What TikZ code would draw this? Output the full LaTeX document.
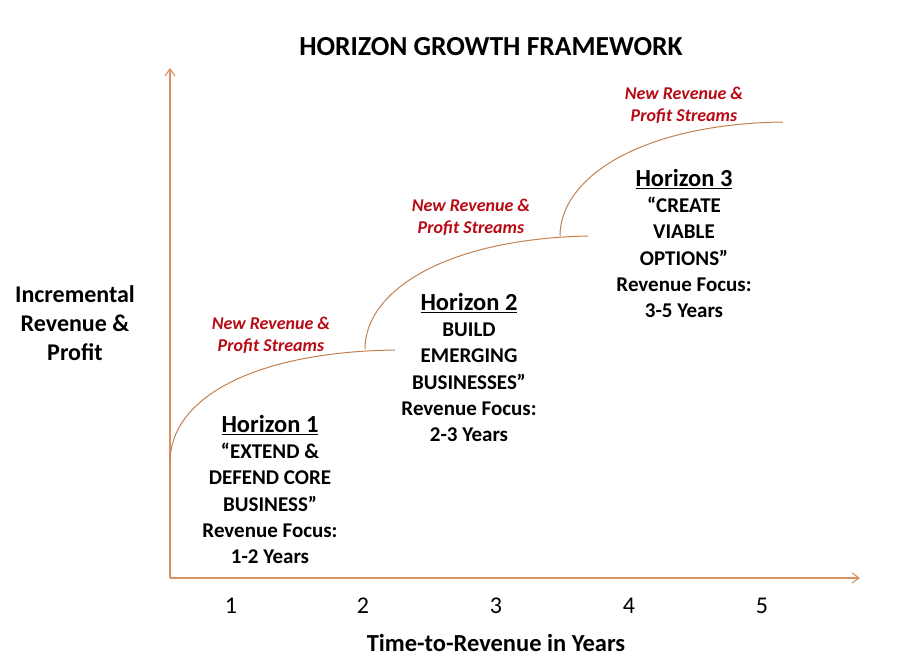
\documentclass[tikz,border=0pt]{standalone}
\usepackage{fontspec}
\setmainfont{Carlito}
\usetikzlibrary{arrows.meta}
\definecolor{axisorange}{RGB}{214,146,98}
\definecolor{curvebrown}{RGB}{196,128,78}
\definecolor{streamred}{RGB}{184,10,20}
\tikzset{
  axisline/.style={axisorange,line width=1.1pt,-{Straight Barb[length=7pt,width=10pt]}},
  growth/.style={curvebrown,line width=1pt},
  horizon/.style={align=center,font=\bfseries\fontsize{21}{26.3}\selectfont,inner sep=0pt},
  stream/.style={align=center,text=streamred,font=\bfseries\itshape\fontsize{18}{22}\selectfont,inner sep=0pt},
  ticklabel/.style={font=\fontsize{24}{26}\selectfont,inner sep=0pt},
}
\begin{document}
\begin{tikzpicture}[x=1pt,y=-1pt]
  \useasboundingbox (0,0) rectangle (898,671);
  % axes
  \coordinate (origin) at (170,578);
  \coordinate (ytop) at (170,68);
  \coordinate (xend) at (860,578);
  \draw[axisline] (origin) -- (ytop);
  \draw[axisline] (origin) -- (xend);
  % growth curves
  \coordinate (c1s) at (170,462);
  \coordinate (c1e) at (395,350);
  \coordinate (c2s) at (365,349);
  \coordinate (c2e) at (588,236);
  \coordinate (c3s) at (560,236);
  \coordinate (c3e) at (783,122);
  \draw[growth] (c1s) .. controls (170,400) and (250,352) .. (c1e);
  \draw[growth] (c2s) .. controls (365,291) and (445,239) .. (c2e);
  \draw[growth] (c3s) .. controls (560,178) and (640,124) .. (c3e);
  % texts
  \node[font=\bfseries\fontsize{27.5}{30}\selectfont,inner sep=0pt] (title) at (491,47) {HORIZON GROWTH FRAMEWORK};
  \node[horizon,font=\bfseries\fontsize{24}{29}\selectfont] (ylabel) at (75,323) {Incremental\\Revenue \&\\Profit};
  \node[horizon,anchor=north] (h1) at (270,415) {{\fontsize{24.5}{26.3}\selectfont\underline{Horizon 1}}\\``EXTEND \&\\DEFEND CORE\\BUSINESS''\\Revenue Focus:\\1-2 Years};
  \node[horizon,anchor=north] (h2) at (469,293) {{\fontsize{24.5}{26.3}\selectfont\underline{Horizon 2}}\\BUILD\\EMERGING\\BUSINESSES''\\Revenue Focus:\\2-3 Years};
  \node[horizon,anchor=north] (h3) at (684,169) {{\fontsize{24.5}{26.3}\selectfont\underline{Horizon 3}}\\``CREATE\\VIABLE\\OPTIONS''\\Revenue Focus:\\3-5 Years};
  \node[stream] (s1) at (271,335) {New Revenue \&\\Profit Streams};
  \node[stream] (s2) at (471,217) {New Revenue \&\\Profit Streams};
  \node[stream] (s3) at (684,105) {New Revenue \&\\Profit Streams};
  \foreach \n/\x in {1/231,2/363,3/496,4/629,5/762}
    \node[ticklabel] (tick\n) at (\x,606) {\n};
  \node[font=\bfseries\fontsize{24.5}{26}\selectfont,inner sep=0pt] (xlabel) at (496,643) {Time-to-Revenue in Years};
\end{tikzpicture}
\end{document}
